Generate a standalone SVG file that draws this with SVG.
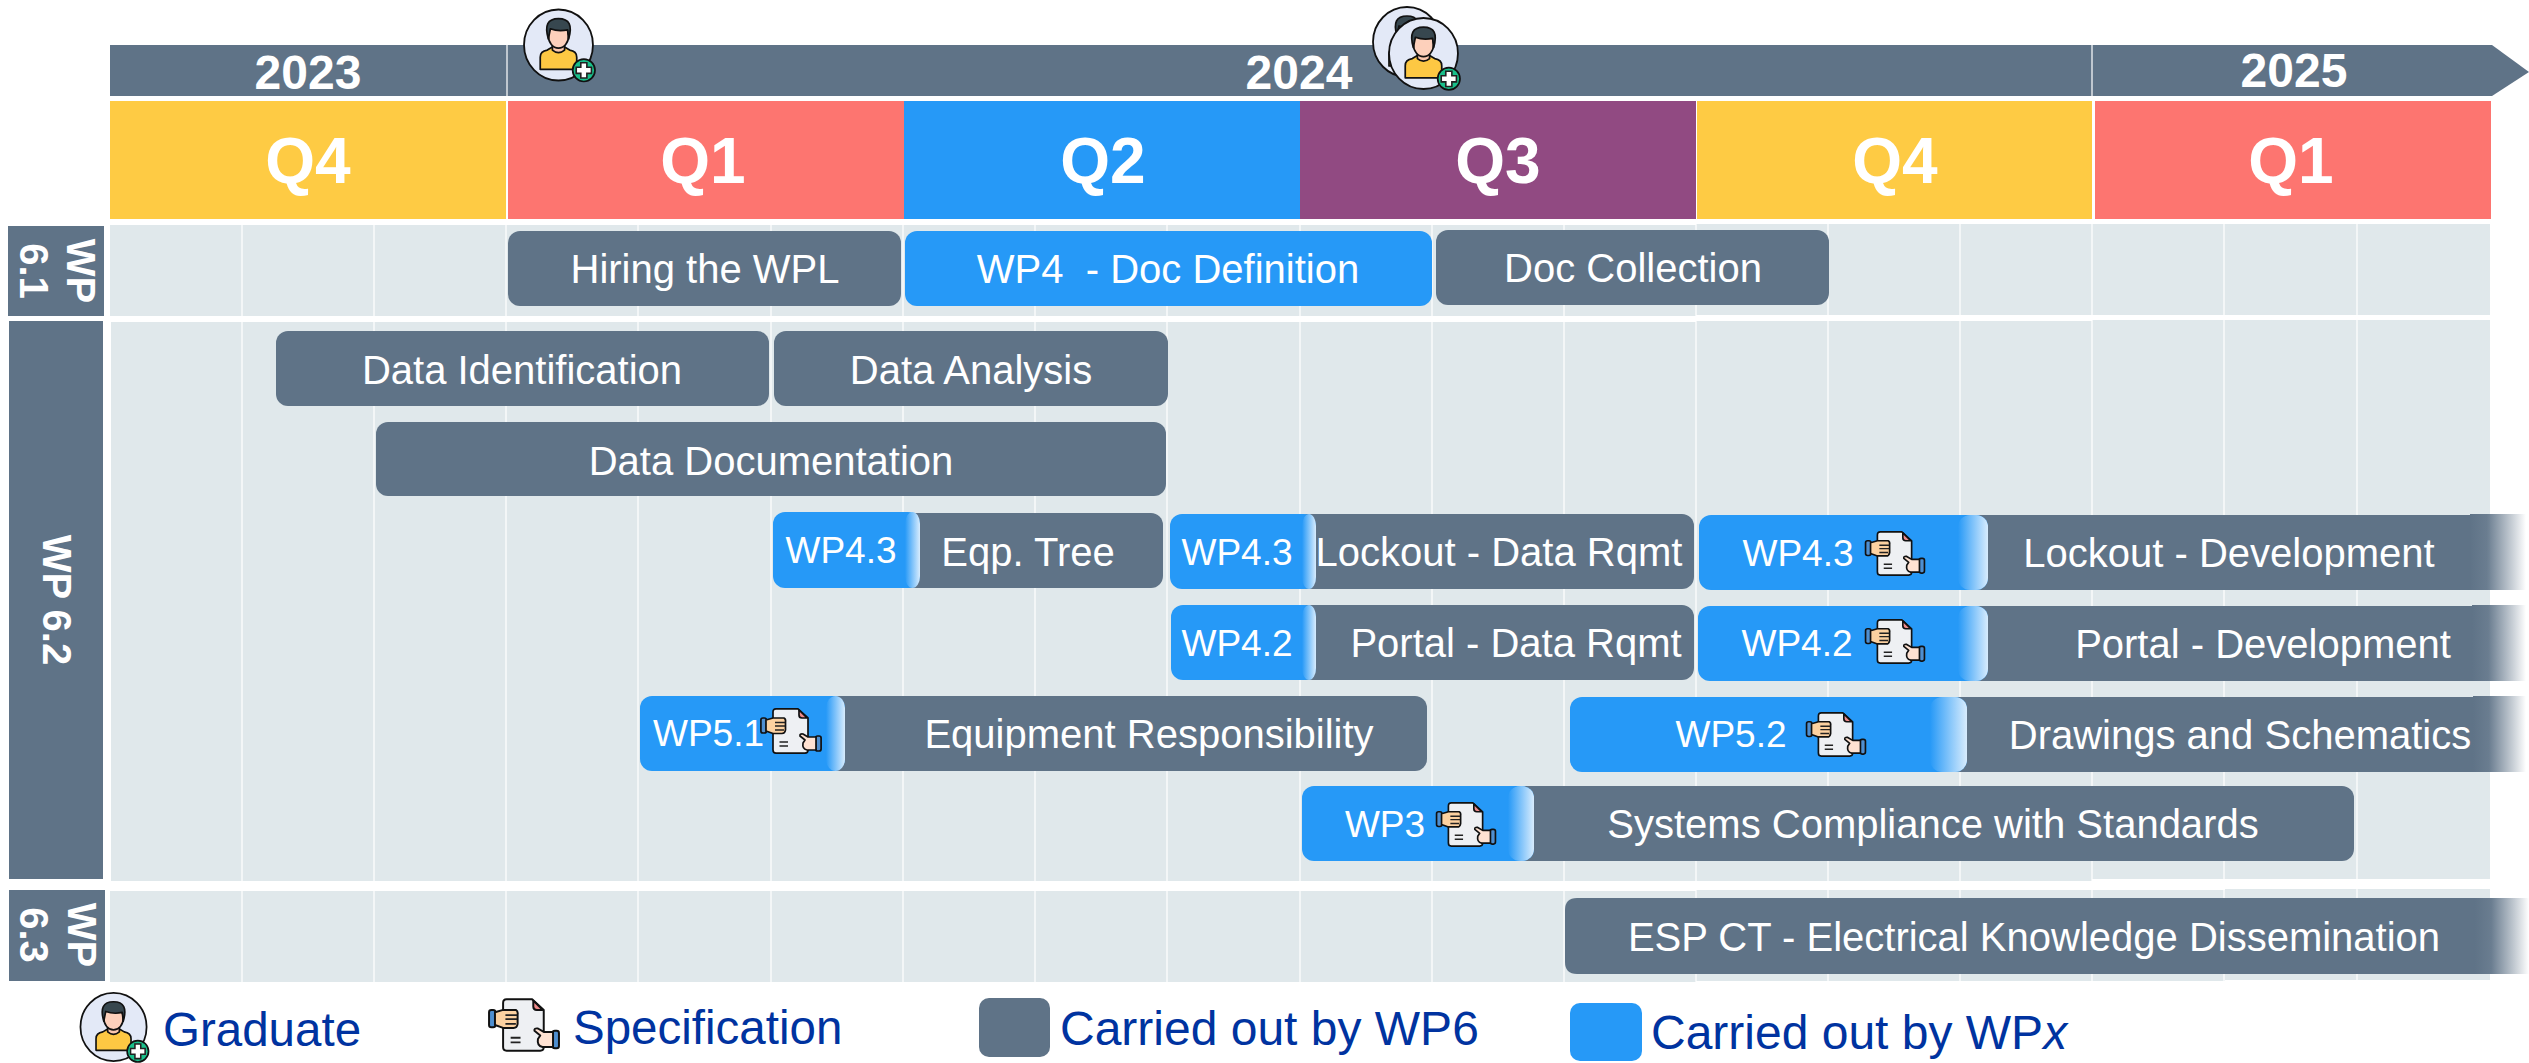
<svg xmlns="http://www.w3.org/2000/svg" width="2529" height="1063" viewBox="0 0 2529 1063">
<style>
text{font-family:"Liberation Sans",Arial,sans-serif;fill:#fff}
.yr{font-size:48px;font-weight:700;text-anchor:middle}
.q{font-size:64px;font-weight:700;text-anchor:middle}
.wp{font-size:40px;font-weight:700;text-anchor:middle}
.t{font-size:40px;text-anchor:middle}
.w{font-size:37px;text-anchor:middle}
.lg{font-size:47.500px;fill:#0033a0}
.g{fill:#5f7387}
.b{fill:#2699f7}
.f{fill:url(#fadeB)}
.e{fill:url(#fadeG)}
.row{fill:#e0e8eb}
.ln{stroke:#fff;stroke-width:1.2;fill:none}
.k{stroke:#111;stroke-width:1.700;stroke-linejoin:round}
</style>
<defs>
<linearGradient id="fadeB" x1="0" x2="1" y1="0" y2="0"><stop offset="0" stop-color="#2699f7"/><stop offset="1" stop-color="#d8ecfd"/></linearGradient>
<linearGradient id="fadeG" x1="0" x2="1" y1="0" y2="0"><stop offset="0" stop-color="#5f7387"/><stop offset="0.3" stop-color="#6a7d90"/><stop offset="1" stop-color="#5f7387" stop-opacity="0"/></linearGradient>
<symbol id="grad" viewBox="0 0 72 73">
<ellipse cx="35" cy="36" rx="34" ry="35" fill="#e3e9f7" stroke="#111" stroke-width="1.8"/>
<path class="k" d="M17 60V48Q17 42 24 41L29 38H41L46 41Q53 42 53 48V60Z" fill="#fdc843"/>
<path class="k" d="M29 36H41V41Q35 46 29 41Z" fill="#fbc7ae"/>
<ellipse class="k" cx="35" cy="27" rx="10" ry="12" fill="#fdd0bb"/>
<path class="k" d="M25 30Q19 10 35 10Q51 10 45 30L44 21Q35 23 27 20Z" fill="#37474f"/>
<circle class="k" cx="60" cy="61" r="11" fill="#19c08b"/>
<path d="M57 53.500H63V58H67.500V64H63V68.500H57V64H52.500V58H57Z" fill="#fff" stroke="#222" stroke-width="1.6"/>
</symbol>
<symbol id="spec" viewBox="0 0 62 46">
<rect class="k" x="0.900" y="10" width="5.500" height="15" rx="2" fill="#4f8fd0"/>
<rect class="k" x="55.600" y="28" width="5.500" height="15" rx="2" fill="#4f8fd0"/>
<path class="k" d="M16 0.900H38L48 10V42Q48 45.100 45 45.100H16Q13 45.100 13 42V4Q13 0.900 16 0.900Z" fill="#eef0f3"/>
<path class="k" d="M39 2L47 10H42Q39 10 39 7Z" fill="#f08a8a"/>
<path d="M19.500 34H28M19.500 38H28" stroke="#222" stroke-width="1.600"/>
<path class="k" d="M6 12L13 10H24Q26 11 25.500 14V22Q25 25.500 22 25.500H13L6 23Z" fill="#fcd1a0"/>
<path d="M15 14.500H25M15 18H25M15 22H24" stroke="#222" stroke-width="1.500"/>
<path class="k" d="M40 28Q39.500 25.500 43 26L48 29H56V42H47Q42 41 43 35L45 32Z" fill="#ffe2d2"/>
</symbol>
</defs>

<g id="timeline">
<path class="g" d="M110 45H2492L2529 72L2492 96H110Z"/>
<path d="M507 45V96M2092 45V96" class="ln"/>
<text class="yr" x="308" y="89">2023</text>
<text class="yr" x="1299" y="89">2024</text>
<text class="yr" x="2294" y="87">2025</text>
</g>

<g id="quarters">
<rect x="110" y="101" width="396" height="118" fill="#fecb44"/>
<rect x="508" y="101" width="396" height="118" fill="#fd7570"/>
<rect x="904" y="101" width="396" height="118" fill="#2699f7"/>
<rect x="1300" y="101" width="396" height="118" fill="#914a82"/>
<rect x="1697" y="101" width="395" height="118" fill="#fecb44"/>
<rect x="2095" y="101" width="396" height="118" fill="#fd7570"/>
<text class="q" x="308" y="183">Q4</text>
<text class="q" x="703" y="183">Q1</text>
<text class="q" x="1103" y="183">Q2</text>
<text class="q" x="1498" y="183">Q3</text>
<text class="q" x="1895" y="183">Q4</text>
<text class="q" x="2291" y="183">Q1</text>
</g>

<g id="grid">
<path class="row" d="M110 225H1696V224H2490V315H1696V316H110Z"/>
<path class="row" d="M111 322H1696V321H2092V320H2490V879H2092V881H111Z"/>
<path class="row" d="M110 891H1696V890H2225V889H2490V980H2225V981H1696V982H110Z"/>
<path class="ln" d="M242 224V316M374 224V316M506 224V316M638 224V316M771 224V316M903 224V316M1035 224V316M1167 224V316M1300 224V316M1432 224V316M1564 224V316M1696 224V316M1828 224V316M1960 224V316M2092 224V316M2224 224V316M2357 224V316M242 320V881M374 320V881M506 320V881M638 320V881M771 320V881M903 320V881M1035 320V881M1167 320V881M1300 320V881M1432 320V881M1564 320V881M1696 320V881M1828 320V881M1960 320V881M2092 320V881M2224 320V881M2357 320V881M242 889V982M374 889V982M506 889V982M638 889V982M771 889V982M903 889V982M1035 889V982M1167 889V982M1300 889V982M1432 889V982M1564 889V982M1696 889V982M1828 889V982M1960 889V982M2092 889V982M2224 889V982M2357 889V982"/>
</g>

<g id="wp61"><rect class="g" x="8" y="226" width="96" height="90"/><text class="wp" transform="translate(67,271) rotate(90)">WP</text><text class="wp" transform="translate(20,271) rotate(90)">6.1</text></g>
<g id="wp62"><rect class="g" x="9" y="321" width="94" height="558"/><text class="wp" transform="translate(43,600) rotate(90)">WP 6.2</text></g>
<g id="wp63"><rect class="g" x="9" y="890" width="96" height="91"/><text class="wp" transform="translate(68,935) rotate(90)">WP</text><text class="wp" transform="translate(20,935) rotate(90)">6.3</text></g>

<g id="bar-hiring"><rect class="g" x="508" y="231" width="393" height="75" rx="12"/><text class="t" x="705" y="283">Hiring the WPL</text></g>
<g id="bar-docdef"><rect class="b" x="905" y="231" width="527" height="75" rx="12"/><text class="t" x="1168" y="283" xml:space="preserve">WP4  - Doc Definition</text></g>
<g id="bar-doccol"><rect class="g" x="1436" y="230" width="393" height="75" rx="12"/><text class="t" x="1633" y="282">Doc Collection</text></g>
<g id="bar-dataid"><rect class="g" x="276" y="331" width="493" height="75" rx="12"/><text class="t" x="522" y="384">Data Identification</text></g>
<g id="bar-dataan"><rect class="g" x="774" y="331" width="394" height="75" rx="12"/><text class="t" x="971" y="384">Data Analysis</text></g>
<g id="bar-datadoc"><rect class="g" x="376" y="422" width="790" height="74" rx="12"/><text class="t" x="771" y="475">Data Documentation</text></g>

<g id="bar-eqp"><rect class="g" x="900" y="513" width="263" height="75" rx="12"/><rect class="b" x="773" y="512" width="147" height="76" rx="12"/><rect class="f" x="905" y="512" width="15" height="76" rx="12"/><text class="w" x="841" y="563">WP4.3</text><text class="t" x="1028" y="566">Eqp. Tree</text></g>
<g id="bar-lockdata"><rect class="g" x="1296" y="514" width="398" height="75" rx="12"/><rect class="b" x="1170" y="514" width="146" height="75" rx="12"/><rect class="f" x="1302" y="514" width="14" height="75" rx="12"/><text class="w" x="1237" y="565">WP4.3</text><text class="t" x="1499" y="566">Lockout - Data Rqmt</text></g>
<g id="bar-portaldata"><rect class="g" x="1296" y="605" width="398" height="75" rx="12"/><rect class="b" x="1171" y="605" width="145" height="75" rx="12"/><rect class="f" x="1302" y="605" width="14" height="75" rx="12"/><text class="w" x="1237" y="656">WP4.2</text><text class="t" x="1516" y="657">Portal - Data Rqmt</text></g>
<g id="bar-equip"><rect class="g" x="825" y="696" width="602" height="75" rx="12"/><rect class="b" x="640" y="696" width="205" height="75" rx="12"/><rect class="f" x="826" y="696" width="19" height="75" rx="12"/><text class="w" x="653" y="746" style="text-anchor:start">WP5.1</text><use href="#spec" x="760" y="708" width="62" height="46"/><text class="t" x="1149" y="748">Equipment Responsibility</text></g>
<g id="bar-systems"><rect class="g" x="1514" y="786" width="840" height="75" rx="12"/><rect class="b" x="1302" y="786" width="232" height="75" rx="12"/><rect class="f" x="1508" y="786" width="26" height="75" rx="12"/><text class="w" x="1385" y="837">WP3</text><use href="#spec" x="1435" y="802" width="62" height="45"/><text class="t" x="1933" y="838">Systems Compliance with Standards</text></g>
<g id="bar-lockdev"><rect class="g" x="1968" y="515" width="504" height="75"/><rect class="e" x="2470" y="514" width="56" height="76"/><rect class="b" x="1699" y="515" width="289" height="75" rx="12"/><rect class="f" x="1958" y="515" width="30" height="75" rx="12"/><text class="w" x="1798" y="566">WP4.3</text><use href="#spec" x="1864" y="531" width="62" height="45"/><text class="t" x="2229" y="567">Lockout - Development</text></g>
<g id="bar-portaldev"><rect class="g" x="1968" y="606" width="506" height="75"/><rect class="e" x="2472" y="605" width="54" height="76"/><rect class="b" x="1698" y="606" width="290" height="75" rx="12"/><rect class="f" x="1958" y="606" width="30" height="75" rx="12"/><text class="w" x="1797" y="656">WP4.2</text><use href="#spec" x="1864" y="619" width="62" height="45"/><text class="t" x="2263" y="658">Portal - Development</text></g>
<g id="bar-drawings"><rect class="g" x="1947" y="697" width="528" height="75"/><rect class="e" x="2473" y="696" width="53" height="76"/><rect class="b" x="1570" y="697" width="397" height="75" rx="12"/><rect class="f" x="1930" y="697" width="37" height="75" rx="12"/><text class="w" x="1731" y="747">WP5.2</text><use href="#spec" x="1805" y="712" width="62" height="45"/><text class="t" x="2240" y="749">Drawings and Schematics</text></g>
<g id="bar-esp"><path class="g" d="M2477 898H1577Q1565 898 1565 910V962Q1565 974 1577 974H2477Z"/><rect class="e" x="2475" y="898" width="54" height="76"/><text class="t" x="2034" y="951">ESP CT - Electrical Knowledge Dissemination</text></g>

<g id="icon-graduate-1"><use href="#grad" x="523" y="8" width="73" height="75"/></g>
<g id="icon-graduate-2"><use href="#grad" x="1372" y="6" width="72" height="73"/><use href="#grad" x="1388" y="17" width="73" height="74"/></g>

<g id="legend">
<use href="#grad" x="78" y="992" width="73" height="71"/>
<text class="lg" x="163" y="1046">Graduate</text>
<use href="#spec" x="488" y="998" width="72" height="54"/>
<text class="lg" x="573" y="1044">Specification</text>
<rect class="g" x="979" y="998" width="71" height="59" rx="10"/>
<text class="lg" x="1060" y="1045" style="font-size:48px">Carried out by WP6</text>
<rect class="b" x="1570" y="1003" width="72" height="58" rx="10"/>
<text class="lg" x="1651" y="1049" style="font-size:48px">Carried out by WP<tspan font-style="italic">x</tspan></text>
</g>
</svg>
